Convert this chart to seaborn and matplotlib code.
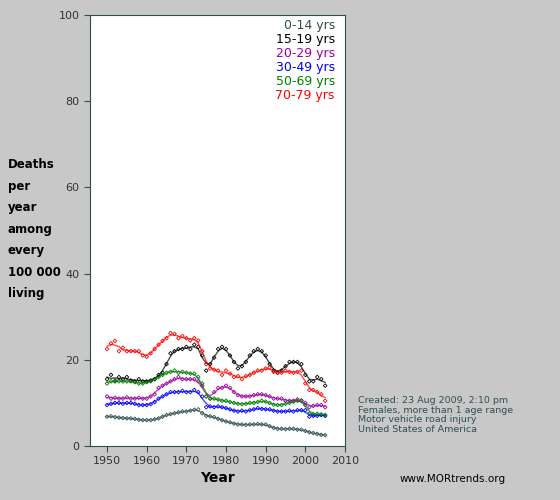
import numpy as np
import pandas as pd
import seaborn as sns
import matplotlib
matplotlib.use("Agg")
import matplotlib.pyplot as plt

years = list(range(1950, 2006))
age_groups = ["0-14 yrs", "15-19 yrs", "20-29 yrs", "30-49 yrs", "50-69 yrs", "70-79 yrs"]
colors = ["#2f4f4f", "#000000", "#a000a0", "#0000ff", "#008000", "#ff0000"]

v_0_14 = [6.8, 6.9, 6.7, 6.6, 6.5, 6.4, 6.4, 6.3, 6.1, 6.0, 6.0, 6.0, 6.2, 6.4, 6.8, 7.2, 7.4, 7.6, 7.8, 8.0,
          8.0, 8.2, 8.4, 8.5, 7.6, 7.0, 6.9, 6.7, 6.3, 6.0, 5.7, 5.5, 5.2, 5.0, 5.0, 4.9, 5.0, 5.0, 5.1, 5.0,
          5.0, 4.6, 4.2, 4.0, 4.0, 3.9, 4.0, 4.0, 3.8, 3.8, 3.5, 3.2, 3.0, 2.8, 2.6, 2.5]
v_15_19 = [15.5, 16.5, 15.0, 16.0, 15.5, 16.0, 15.2, 15.0, 15.5, 15.0, 15.0, 15.2, 15.5, 16.5, 17.0, 19.0, 21.5, 22.0, 22.5, 22.5,
           23.0, 22.5, 23.5, 23.0, 21.0, 17.5, 19.0, 20.5, 22.5, 23.0, 22.5, 21.0, 19.5, 18.0, 18.5, 19.5, 21.0, 22.0, 22.5, 22.0,
           21.0, 19.0, 17.5, 17.0, 17.5, 18.5, 19.5, 19.5, 19.5, 19.0, 16.5, 15.0, 15.0, 16.0, 15.5, 14.0]
v_20_29 = [11.5, 11.0, 11.2, 11.0, 11.0, 11.3, 11.0, 11.0, 11.2, 11.0, 11.0, 11.5, 12.0, 13.5, 14.0, 14.5, 15.0, 15.5, 16.0, 15.5,
           15.5, 15.5, 15.5, 15.0, 14.0, 11.5, 11.0, 12.5, 13.5, 13.5, 14.0, 13.5, 12.5, 11.8, 11.5, 11.5, 11.5, 11.8, 12.0, 12.0,
           11.8, 11.5, 11.0, 11.0, 11.0, 10.5, 10.5, 10.5, 10.8, 10.5, 10.0, 9.0, 9.3, 9.5, 9.5, 9.0]
v_30_49 = [9.5, 9.8, 10.0, 10.0, 9.8, 10.0, 10.0, 9.8, 9.5, 9.5, 9.5, 9.7, 10.2, 11.0, 11.5, 12.0, 12.5, 12.5, 12.5, 12.8,
           12.5, 12.5, 13.0, 12.5, 11.5, 9.0, 9.2, 9.0, 9.2, 9.0, 8.8, 8.5, 8.2, 8.0, 8.2, 8.0, 8.3, 8.5, 8.8, 8.6,
           8.5, 8.5, 8.2, 8.0, 8.0, 8.0, 8.2, 8.0, 8.3, 8.3, 8.3, 6.8, 7.0, 7.0, 7.2, 7.0]
v_50_69 = [14.5, 15.0, 15.2, 15.0, 15.0, 15.0, 15.0, 14.8, 14.5, 14.5, 14.8, 15.0, 15.5, 16.0, 16.5, 17.0, 17.2, 17.5, 17.0, 17.2,
           17.0, 16.8, 16.8, 16.0, 14.5, 11.5, 11.0, 11.0, 10.8, 10.5, 10.5, 10.2, 10.0, 9.8, 9.7, 9.8, 10.0, 10.0, 10.2, 10.5,
           10.3, 10.0, 9.6, 9.5, 9.5, 9.8, 10.0, 10.3, 10.5, 10.6, 9.5, 7.5, 7.4, 7.5, 7.3, 7.2]
v_70_79 = [22.5, 23.8, 24.4, 22.0, 22.8, 22.0, 22.0, 22.0, 22.0, 21.0, 20.7, 21.5, 22.5, 23.5, 24.4, 25.0, 26.2, 26.0, 25.0, 25.5,
           25.0, 24.5, 25.0, 24.5, 22.0, 19.0, 18.0, 17.7, 17.5, 16.5, 17.5, 16.8, 16.0, 16.2, 15.5, 16.2, 16.5, 17.0, 17.5, 17.5,
           18.0, 18.2, 17.2, 17.0, 17.0, 17.5, 17.2, 17.0, 17.2, 17.5, 14.5, 13.0, 13.0, 12.5, 12.0, 10.5]

series = [v_0_14, v_15_19, v_20_29, v_30_49, v_50_69, v_70_79]
df = pd.concat([pd.DataFrame({"Year": years, "Rate": s, "Age": g}) for g, s in zip(age_groups, series)])

bg = "#c8c8c8"
fig = plt.figure(figsize=(5.6, 5.0), dpi=100, facecolor=bg)
ax = fig.add_axes([90/560, 1-446/500, (345-90)/560, (446-15)/500])
ax.set_facecolor("white")

for g, c in zip(age_groups, colors):
    d = df[df.Age == g].copy()
    d["Smooth"] = d["Rate"].rolling(3, center=True, min_periods=1).mean()
    sns.lineplot(data=d, x="Year", y="Smooth", color=c, lw=1.0, alpha=0.7, ax=ax)
    sns.scatterplot(data=d, x="Year", y="Rate", marker="D", s=3.5, facecolor="none",
                    edgecolor=c, linewidth=0.6, ax=ax)

ax.set_xlim(1945.7, 2010)
ax.set_ylim(0, 100)
ax.set_xticks(range(1950, 2011, 10))
ax.set_yticks(range(0, 101, 20))
for s in ax.spines.values():
    s.set_color("#2f4f4f")
ax.tick_params(colors="#2f4f4f", labelcolor="#333333", labelsize=8, length=4)
ax.set_xlabel("Year", fontsize=10, fontweight="bold", labelpad=3)
ax.set_ylabel("")

for i, (g, c) in enumerate(zip(age_groups, colors)):
    ax.text(0.96, 0.99 - i * 0.0325, g, transform=ax.transAxes, ha="right", va="top",
            color=c, fontsize=9)

fig.text(8/560, 1-158/500, "Deaths\nper\nyear\namong\nevery\n100 000\nliving",
         ha="left", va="top", fontsize=8.5, fontweight="bold", linespacing=1.85)
fig.text(358/560, 1-396/500, "Created: 23 Aug 2009, 2:10 pm\nFemales, more than 1 age range\nMotor vehicle road injury\nUnited States of America",
         ha="left", va="top", fontsize=6.8, color="#2f4f4f", linespacing=1.1)
fig.text(400/560, 1-479/500, "www.MORtrends.org", ha="left", va="center", fontsize=7.5, color="black")

fig.savefig("out.png", dpi=100, facecolor=bg)
